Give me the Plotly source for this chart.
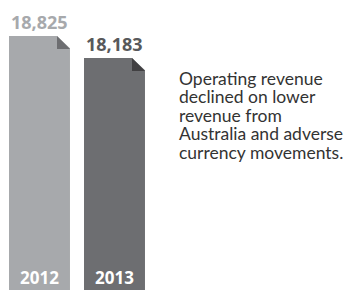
import plotly.graph_objects as go

years = ["2012", "2013"]
revenue = [18825, 18183]
value_labels = ["18,825", "18,183"]
bar_colors = ["#a7a9ac", "#6d6e71"]
fold_colors = ["#6d6e71", "#414042"]
label_colors = ["#a7a9ac", "#58595b"]
note_lines = ["Operating revenue", "declined on lower", "revenue from",
              "Australia and adverse", "currency movements."]

# the page adds an 8px body margin, so the figure is drawn 8px smaller
W, H = 344, 282
y_min, y_max = 11413, 19642
x_min, x_max = -0.42, 4.167
bar_width = 0.813
fold_px = 13

units_per_px_y = (y_max - y_min) / H
units_per_px_x = (x_max - x_min) / W
fy = fold_px * units_per_px_y
fx = fold_px * units_per_px_x

fig = go.Figure()
fig.add_trace(go.Bar(x=years, y=revenue, marker=dict(color=bar_colors, line=dict(width=0)),
                     width=bar_width, hoverinfo="skip"))

shapes = []
annotations = []
for i, (yr, v) in enumerate(zip(years, revenue)):
    right = i + bar_width / 2
    shapes.append(dict(type="path", xref="x", yref="y", layer="above",
                       path=f"M{right - fx},{v} L{right + 0.01},{v} L{right + 0.01},{v - fy} Z",
                       fillcolor="white", line=dict(width=0)))
    shapes.append(dict(type="path", xref="x", yref="y", layer="above",
                       path=f"M{right - fx},{v} L{right - fx},{v - fy} L{right},{v - fy} Z",
                       fillcolor=fold_colors[i], line=dict(width=0)))
    annotations.append(dict(x=i, y=v, xref="x", yref="y", text=f"<b>{value_labels[i]}</b>",
                            showarrow=False, yanchor="bottom", yshift=0,
                            font=dict(family="Open Sans", size=18, color=label_colors[i])))
    annotations.append(dict(x=i, y=y_min, xref="x", yref="y", text=f"<b>{yr}</b>",
                            showarrow=False, yanchor="bottom", yshift=-1,
                            font=dict(family="Open Sans", size=17, color="white")))

base_top = 58
pitch = 18.45
for k, line in enumerate(note_lines):
    annotations.append(dict(x=169 / W, y=1 - (base_top + k * pitch) / H, xref="paper", yref="paper",
                            text=line, showarrow=False, xanchor="left", yanchor="top", align="left",
                            font=dict(family="Lato", size=17.5, color="#333333")))

fig.update_layout(
    width=W, height=H, margin=dict(l=0, r=0, t=0, b=0),
    paper_bgcolor="white", plot_bgcolor="white", showlegend=False,
    xaxis=dict(range=[x_min, x_max], visible=False, type="category"),
    yaxis=dict(range=[y_min, y_max], visible=False),
    shapes=shapes, annotations=annotations,
)
fig.write_html("out.html")
